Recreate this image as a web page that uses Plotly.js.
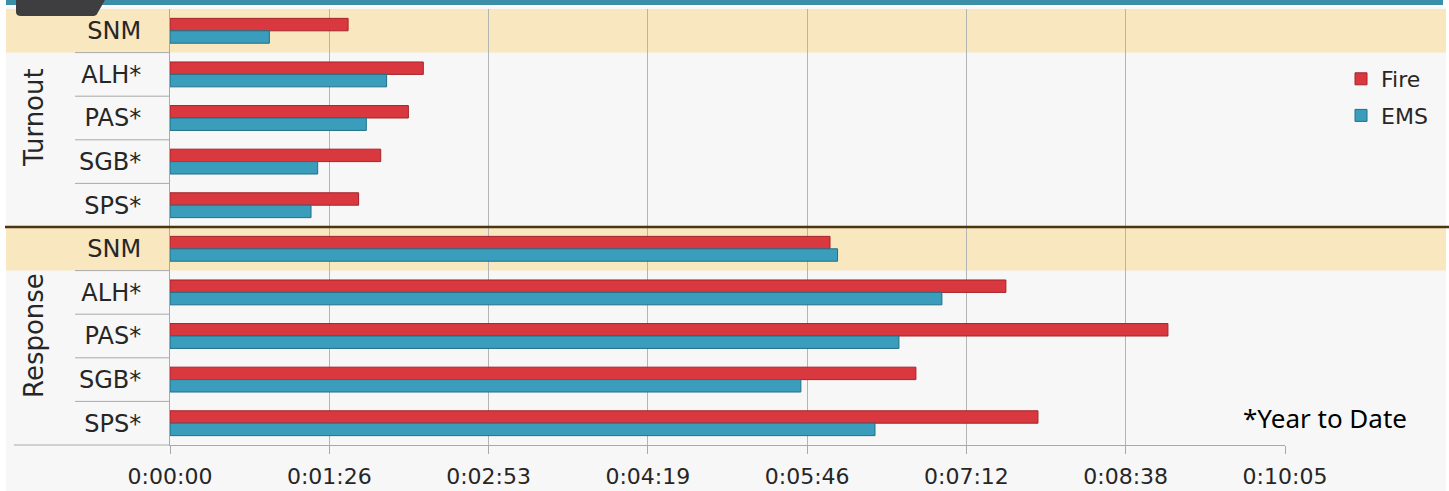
<!DOCTYPE html>
<html>
<head>
<meta charset="utf-8">
<script src="https://cdn.plot.ly/plotly-3.0.1.min.js"></script>
<style>
  html, body { margin: 0; padding: 0; background: #ffffff; }
  #chart { width: 1449px; height: 491px; }
</style>
</head>
<body>
<div id="chart"></div>
<script>
// ---- data (seconds) ----
const categories = ['SNM', 'ALH*', 'PAS*', 'SGB*', 'SPS*', 'SNM', 'ALH*', 'PAS*', 'SGB*', 'SPS*'];
const groupNames = ['Turnout', 'Response'];
const groupSize = 5;
const seriesNames = ['Fire', 'EMS'];
const fireSeconds = [96.6, 137.4, 129.3, 114.3, 102.3, 358.0, 453.4, 541.3, 404.6, 470.8];
const emsSeconds  = [53.9, 117.5, 106.5, 80.1, 76.5, 362.1, 418.7, 395.4, 342.2, 382.4];
const tickSeconds = [0, 86.4, 172.8, 259.2, 345.6, 432, 518.4, 604.8];
const tickLabels  = ['0:00:00', '0:01:26', '0:02:53', '0:04:19', '0:05:46', '0:07:12', '0:08:38', '0:10:05'];
const highlightCategory = 'SNM';
const footnote = '*Year to Date';

// ---- layout geometry helpers (pixel -> paper) ----
const W = 1449, H = 491;
const M = { l: 170, r: 164, t: 9, b: 46 };
const PW = W - M.l - M.r, PH = H - M.t - M.b;
const px = x => (x - M.l) / PW;
const py = y => (H - M.b - y) / PH;

const yIdx = categories.map((_, i) => i);

const fireColor = '#d9383e', fireLine = '#a3242a';
const emsColor = '#3a9dbb', emsLine = '#236f88';
const font = 'DejaVu Sans, sans-serif';

const traces = [
  {
    type: 'bar', orientation: 'h', name: seriesNames[0], legendgroup: 'a',
    x: fireSeconds, y: yIdx,
    marker: { color: fireColor, line: { color: fireLine, width: 1 } },
    hoverinfo: 'x+name'
  },
  {
    type: 'bar', orientation: 'h', name: seriesNames[1], legendgroup: 'b',
    x: emsSeconds, y: yIdx,
    marker: { color: emsColor, line: { color: emsLine, width: 1 } },
    hoverinfo: 'x+name'
  }
];

const shapes = [];
// slide background
shapes.push({ type: 'rect', xref: 'paper', yref: 'paper', layer: 'below',
  x0: px(6), x1: px(1446), y0: py(H), y1: py(7),
  fillcolor: '#f7f7f7', line: { width: 0 } });
// highlight bands
categories.forEach((c, i) => {
  if (c === highlightCategory) {
    shapes.push({ type: 'rect', xref: 'paper', yref: 'y', layer: 'below',
      x0: px(6), x1: px(1446), y0: i - 0.5, y1: i + 0.5,
      fillcolor: '#f9e7c0', line: { width: 0 } });
  }
});
// separators in the label column
for (let i = 0; i < categories.length - 1; i++) {
  if ((i + 1) % groupSize === 0) continue;
  shapes.push({ type: 'line', xref: 'paper', yref: 'y',
    x0: px(75), x1: 0, y0: i + 0.5, y1: i + 0.5,
    line: { color: '#a9a9a9', width: 1 } });
}
// bottom line extension to the left
shapes.push({ type: 'line', xref: 'paper', yref: 'paper',
  x0: px(14), x1: 0, y0: 0, y1: 0, line: { color: '#a9a9a9', width: 1 } });
// group separator
for (let g = 1; g < groupNames.length; g++) {
  const yb = g * groupSize - 0.5;
  shapes.push({ type: 'line', xref: 'paper', yref: 'y',
    x0: px(5), x1: px(1449), y0: yb, y1: yb,
    line: { color: '#4a3510', width: 2.5 } });
}
// slide header decorations
shapes.push({ type: 'rect', xref: 'paper', yref: 'paper', layer: 'above',
  x0: px(6), x1: px(1443), y0: py(5), y1: py(0),
  fillcolor: '#3a8ea8', line: { width: 0 } });
shapes.push({ type: 'path', xref: 'paper', yref: 'paper', layer: 'above',
  path: `M ${px(16)},${py(0)} L ${px(105)},${py(0)} L ${px(97)},${py(14)} Q ${px(96)},${py(16)} ${px(92)},${py(16)} L ${px(21)},${py(16)} Q ${px(16)},${py(16)} ${px(16)},${py(12)} Z`,
  fillcolor: '#3e3e40', line: { width: 0 } });

const annotations = groupNames.map((g, k) => ({
  text: g, xref: 'paper', yref: 'y',
  x: px(34), y: k * groupSize + (groupSize - 1) / 2,
  textangle: -90, showarrow: false,
  font: { family: font, size: 26, color: '#262626' },
  xanchor: 'center', yanchor: 'middle'
}));
annotations.push({
  text: footnote, xref: 'paper', yref: 'paper',
  x: px(1409), y: py(418), xanchor: 'right', yanchor: 'middle',
  showarrow: false, font: { family: 'Noto Sans, sans-serif', size: 26, color: '#000000' }
});

const layout = {
  width: W, height: H,
  margin: M,
  paper_bgcolor: '#ffffff',
  plot_bgcolor: 'rgba(0,0,0,0)',
  barmode: 'group',
  bargap: 0.43,
  bargroupgap: 0,
  showlegend: true,
  legend: {
    x: px(1341), y: py(58), xanchor: 'left', yanchor: 'top',
    traceorder: 'grouped', tracegroupgap: 5,
    bgcolor: 'rgba(0,0,0,0)',
    font: { family: font, size: 22, color: '#262626' }
  },
  xaxis: {
    type: 'linear', range: [0, tickSeconds[tickSeconds.length - 1]],
    tickmode: 'array', tickvals: tickSeconds, ticktext: tickLabels,
    showgrid: true, gridcolor: '#b4b4b4', gridwidth: 1,
    zeroline: false,
    showline: true, linecolor: '#a9a9a9', linewidth: 1,
    ticks: 'outside', ticklen: 8, tickcolor: '#a9a9a9',
    ticklabelstandoff: 4,
    tickfont: { family: font, size: 22, color: '#262626' },
    fixedrange: true
  },
  yaxis: {
    range: [categories.length - 0.5, -0.5],
    tickmode: 'array', tickvals: yIdx, ticktext: categories,
    showgrid: false, zeroline: false,
    showline: true, linecolor: '#a9a9a9', linewidth: 1,
    ticks: '', ticklabelstandoff: 23,
    tickfont: { family: font, size: 24, color: '#262626' },
    fixedrange: true
  },
  shapes: shapes,
  annotations: annotations
};

Plotly.newPlot('chart', traces, layout, { displayModeBar: false, staticPlot: true });
</script>
</body>
</html>
